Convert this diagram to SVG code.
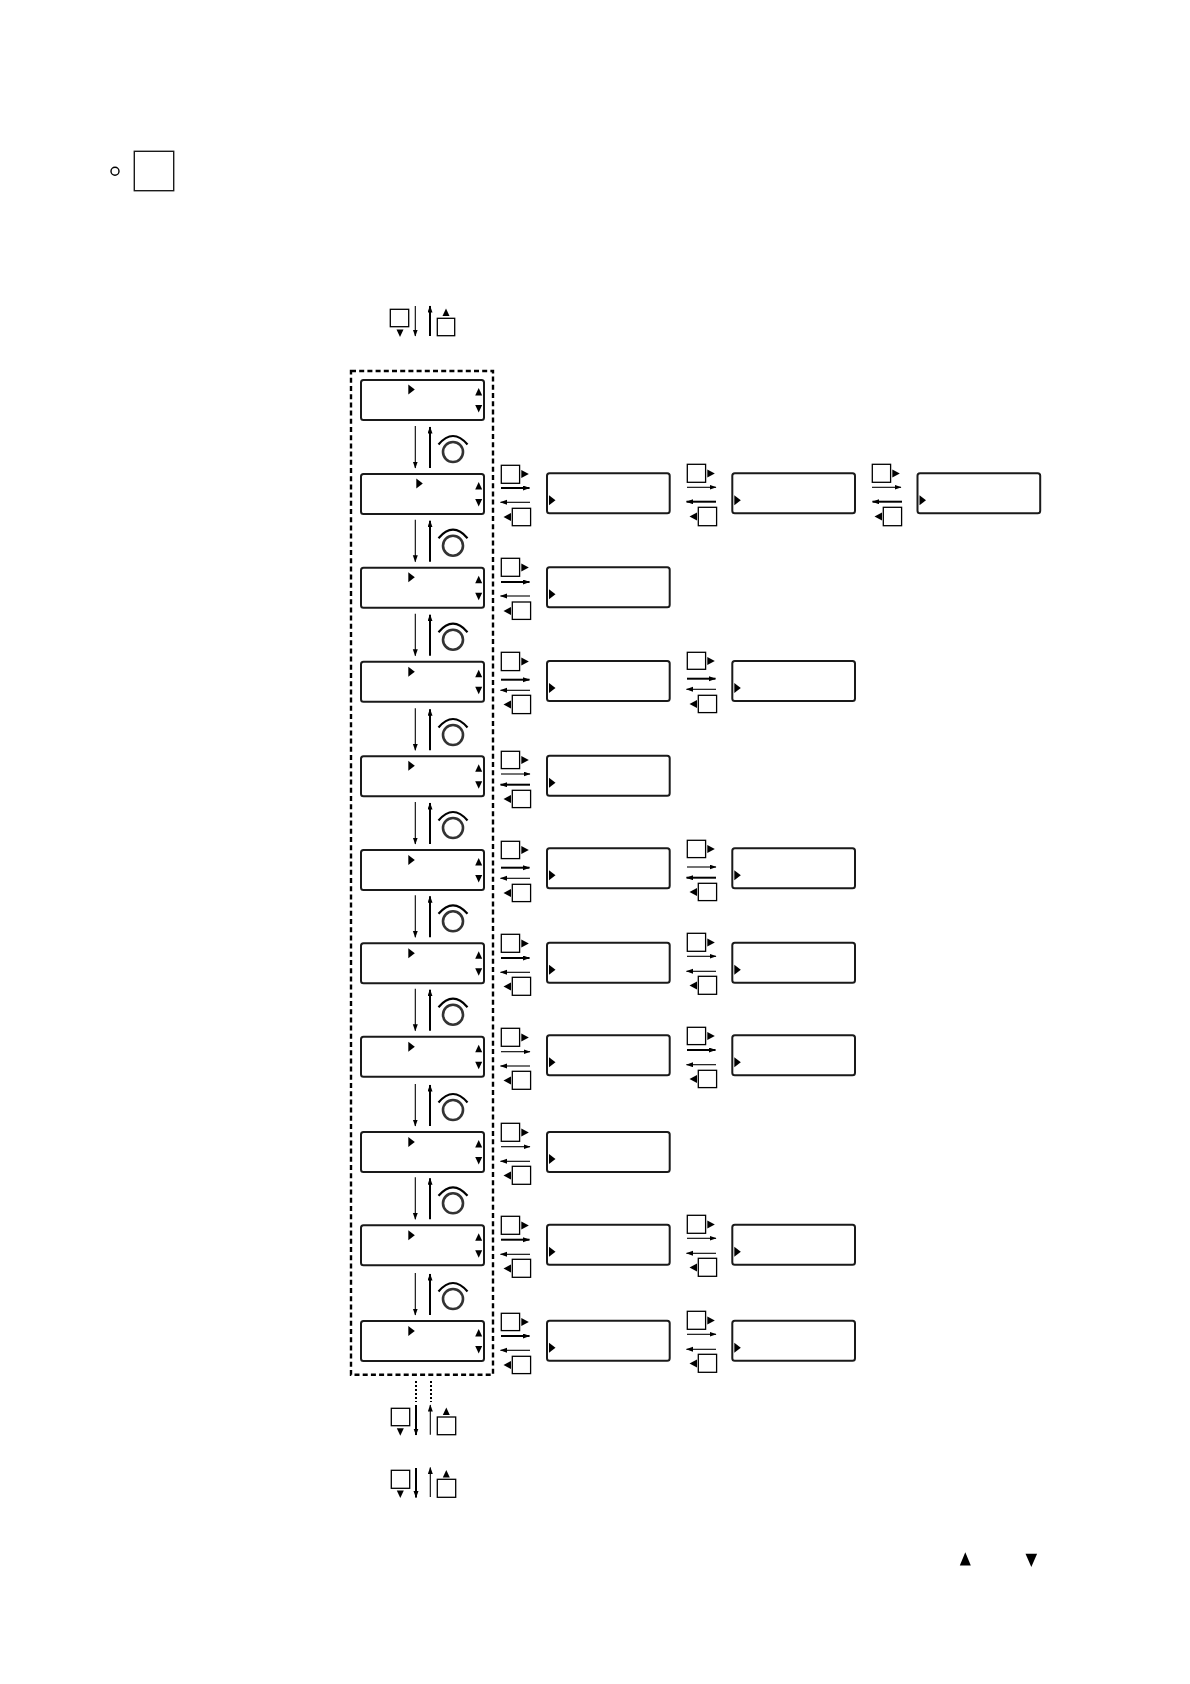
<svg xmlns="http://www.w3.org/2000/svg" width="1190" height="1684" viewBox="0 0 1190 1684">
<style>
.box{fill:#fff;stroke:#1a1a1a;stroke-width:2}
.k{fill:#fff;stroke:#000;stroke-width:1.3}
.t,.b{fill:none;stroke:#000;marker-end:url(#ah)}
.t{stroke-width:1.1}
.b{stroke-width:2}
.f{fill:#000}
.dash{fill:none;stroke:#000;stroke-width:2.4;stroke-dasharray:5 3.2}
.dot{stroke:#000;stroke-width:2;stroke-dasharray:2 2;fill:none}
</style>
<defs>
<marker id="ah" markerUnits="userSpaceOnUse" markerWidth="8" markerHeight="6" refX="6.5" refY="2.5" orient="auto"><path d="M0,0L7,2.5L0,5z" fill="#000"/></marker>
<path id="tr" class="f" d="M0,-5L6.5,0L0,5z"/>
<path id="tl" class="f" d="M0,-4L-7.5,0L0,4z"/>
<path id="tkr" class="f" d="M0,-4L7.5,0L0,4z"/>
<path id="tu" class="f" d="M-3.5,7.5L0,0L3.5,7.5z"/>
<path id="td" class="f" d="M-3.5,0L0,7.5L3.5,0z"/>
<g id="menu"><rect class="box" width="123" height="40" rx="2.5"/><use href="#tu" x="117.7" y="8"/><use href="#td" x="117.7" y="25"/></g>
<g id="panel"><rect class="box" width="122.7" height="40" rx="2.5"/><use href="#tr" x="2" y="27"/></g>
<g id="knob"><circle cx="453" cy="-22" r="10" fill="#fff" stroke="#333" stroke-width="2.6"/><path d="M438.5,-29.5Q453,-46.5 467.5,-29.5" fill="none" stroke="#000" stroke-width="2.2"/></g>
<g id="wl"><line class="t" x1="415.3" y1="-48" x2="415.3" y2="-6"/><line class="b" x1="430" y1="-6" x2="430" y2="-47"/></g>
</defs>

<g id="title-mark"><circle cx="115" cy="171.3" r="4" fill="none" stroke="#000" stroke-width="1.4"/><rect x="134.3" y="151.3" width="39.4" height="39.4" fill="#fff" stroke="#1a1a1a" stroke-width="1.4"/></g>

<g id="menu-frame"><rect class="dash" x="351" y="371" width="142" height="1003.7"/></g>

<g id="menus">
<g id="menu1" transform="translate(361,380)"><use href="#menu"/><use href="#tr" x="47.3" y="9.5"/></g>
<g id="menu2" transform="translate(361,474)"><use href="#menu"/><use href="#tr" x="55.3" y="9.5"/></g>
<g id="menu3" transform="translate(361,567.7)"><use href="#menu"/><use href="#tr" x="47.3" y="9.5"/></g>
<g id="menu4" transform="translate(361,661.7)"><use href="#menu"/><use href="#tr" x="47.3" y="10"/></g>
<g id="menu5" transform="translate(361,756.3)"><use href="#menu"/><use href="#tr" x="47.3" y="9.5"/></g>
<g id="menu6" transform="translate(361,850)"><use href="#menu"/><use href="#tr" x="47.3" y="10"/></g>
<g id="menu7" transform="translate(361,943.3)"><use href="#menu"/><use href="#tr" x="47.3" y="10"/></g>
<g id="menu8" transform="translate(361,1036.7)"><use href="#menu"/><use href="#tr" x="47.3" y="10"/></g>
<g id="menu9" transform="translate(361,1132)"><use href="#menu"/><use href="#tr" x="47.3" y="10"/></g>
<g id="menu10" transform="translate(361,1225.3)"><use href="#menu"/><use href="#tr" x="47.3" y="10"/></g>
<g id="menu11" transform="translate(361,1321)"><use href="#menu"/><use href="#tr" x="47.3" y="10"/></g>
</g>

<g id="panels">
<g id="p2a" transform="translate(547,473.3)"><use href="#panel"/></g>
<g id="p2b" transform="translate(732.3,473.3)"><use href="#panel"/></g>
<g id="p2c" transform="translate(917.5,473.3)"><use href="#panel"/></g>
<g id="p3a" transform="translate(547,567.3)"><use href="#panel"/></g>
<g id="p4a" transform="translate(547,661)"><use href="#panel"/></g>
<g id="p4b" transform="translate(732.3,661)"><use href="#panel"/></g>
<g id="p5a" transform="translate(547,755.7)"><use href="#panel"/></g>
<g id="p6a" transform="translate(547,848.3)"><use href="#panel"/></g>
<g id="p6b" transform="translate(732.3,848.3)"><use href="#panel"/></g>
<g id="p7a" transform="translate(547,942.7)"><use href="#panel"/></g>
<g id="p7b" transform="translate(732.3,942.7)"><use href="#panel"/></g>
<g id="p8a" transform="translate(547,1035.3)"><use href="#panel"/></g>
<g id="p8b" transform="translate(732.3,1035.3)"><use href="#panel"/></g>
<g id="p9a" transform="translate(547,1132)"><use href="#panel"/></g>
<g id="p10a" transform="translate(547,1224.7)"><use href="#panel"/></g>
<g id="p10b" transform="translate(732.3,1224.7)"><use href="#panel"/></g>
<g id="p11a" transform="translate(547,1320.7)"><use href="#panel"/></g>
<g id="p11b" transform="translate(732.3,1320.7)"><use href="#panel"/></g>
</g>

<g id="wheels">
<use id="wheel1" href="#knob" y="474"/>
<use id="wheel2" href="#knob" y="567.7"/>
<use id="wheel3" href="#knob" y="661.7"/>
<use id="wheel4" href="#knob" y="757"/>
<use id="wheel5" href="#knob" y="850"/>
<use id="wheel6" href="#knob" y="943.3"/>
<use id="wheel7" href="#knob" y="1036.7"/>
<use id="wheel8" href="#knob" y="1132"/>
<use id="wheel9" href="#knob" y="1225.3"/>
<use id="wheel10" href="#knob" y="1321"/>
</g>

<g id="keys">
<g id="keys2a"><rect class="k" x="501.3" y="465.3" width="18.3" height="18"/><use href="#tkr" x="521.3" y="474"/><rect class="k" x="512.3" y="508.3" width="18.3" height="17.4"/><use href="#tl" x="511" y="517"/></g>
<g id="keys2b" transform="translate(186,0)"><rect class="k" x="501.3" y="464.3" width="18.3" height="18"/><use href="#tkr" x="521.3" y="473.5"/><rect class="k" x="512.3" y="507.3" width="18.3" height="18.4"/><use href="#tl" x="511" y="516.5"/></g>
<g id="keys2c" transform="translate(371,0)"><rect class="k" x="501.3" y="464.3" width="18.3" height="18"/><use href="#tkr" x="521.3" y="473.5"/><rect class="k" x="512.3" y="507.3" width="18.3" height="18.4"/><use href="#tl" x="511" y="516.5"/></g>
<g id="keys3a"><rect class="k" x="501.3" y="558.3" width="18.3" height="18"/><use href="#tkr" x="521.3" y="567.5"/><rect class="k" x="512.3" y="602" width="18.3" height="17.4"/><use href="#tl" x="511" y="611"/></g>
<g id="keys4a"><rect class="k" x="501.3" y="652.3" width="18.3" height="18.3"/><use href="#tkr" x="521.3" y="661.5"/><rect class="k" x="512.3" y="695.3" width="18.3" height="18.3"/><use href="#tl" x="511" y="704.5"/></g>
<g id="keys4b" transform="translate(186,0)"><rect class="k" x="501.3" y="652.3" width="18.3" height="17"/><use href="#tkr" x="521.3" y="661"/><rect class="k" x="512.3" y="695.3" width="18.3" height="17.3"/><use href="#tl" x="511" y="704"/></g>
<g id="keys5a"><rect class="k" x="501.3" y="751.3" width="18.3" height="17.3"/><use href="#tkr" x="521.3" y="760"/><rect class="k" x="512.3" y="790.3" width="18.3" height="17.3"/><use href="#tl" x="511" y="799"/></g>
<g id="keys6a"><rect class="k" x="501.3" y="841.3" width="18.3" height="17.3"/><use href="#tkr" x="521.3" y="850"/><rect class="k" x="512.3" y="884.3" width="18.3" height="17.3"/><use href="#tl" x="511" y="893"/></g>
<g id="keys6b" transform="translate(186,0)"><rect class="k" x="501.3" y="840.3" width="18.3" height="17.3"/><use href="#tkr" x="521.3" y="849"/><rect class="k" x="512.3" y="883.3" width="18.3" height="17.3"/><use href="#tl" x="511" y="892"/></g>
<g id="keys7a"><rect class="k" x="501.3" y="934.3" width="18.3" height="18"/><use href="#tkr" x="521.3" y="943.5"/><rect class="k" x="512.3" y="977.3" width="18.3" height="18"/><use href="#tl" x="511" y="986.5"/></g>
<g id="keys7b" transform="translate(186,0)"><rect class="k" x="501.3" y="933.3" width="18.3" height="18"/><use href="#tkr" x="521.3" y="942.5"/><rect class="k" x="512.3" y="976.3" width="18.3" height="18"/><use href="#tl" x="511" y="985.5"/></g>
<g id="keys8a"><rect class="k" x="501.3" y="1028.3" width="18.3" height="18"/><use href="#tkr" x="521.3" y="1037.5"/><rect class="k" x="512.3" y="1071.3" width="18.3" height="18"/><use href="#tl" x="511" y="1080.5"/></g>
<g id="keys8b" transform="translate(186,0)"><rect class="k" x="501.3" y="1027.3" width="18.3" height="17.3"/><use href="#tkr" x="521.3" y="1036"/><rect class="k" x="512.3" y="1070.3" width="18.3" height="17.3"/><use href="#tl" x="511" y="1079"/></g>
<g id="keys9a"><rect class="k" x="501.3" y="1123.3" width="18.3" height="18"/><use href="#tkr" x="521.3" y="1132.5"/><rect class="k" x="512.3" y="1166.3" width="18.3" height="18"/><use href="#tl" x="511" y="1175.5"/></g>
<g id="keys10a"><rect class="k" x="501.3" y="1216.3" width="18.3" height="18"/><use href="#tkr" x="521.3" y="1225.5"/><rect class="k" x="512.3" y="1259.3" width="18.3" height="18"/><use href="#tl" x="511" y="1268.5"/></g>
<g id="keys10b" transform="translate(186,0)"><rect class="k" x="501.3" y="1215.3" width="18.3" height="18"/><use href="#tkr" x="521.3" y="1224.5"/><rect class="k" x="512.3" y="1258.3" width="18.3" height="18"/><use href="#tl" x="511" y="1267.5"/></g>
<g id="keys11a"><rect class="k" x="501.3" y="1313.3" width="18.3" height="17.3"/><use href="#tkr" x="521.3" y="1322"/><rect class="k" x="512.3" y="1356.3" width="18.3" height="17.3"/><use href="#tl" x="511" y="1365"/></g>
<g id="keys11b" transform="translate(186,0)"><rect class="k" x="501.3" y="1311.3" width="18.3" height="18"/><use href="#tkr" x="521.3" y="1320.5"/><rect class="k" x="512.3" y="1354.3" width="18.3" height="18"/><use href="#tl" x="511" y="1363.5"/></g>
<g id="keys-top"><rect class="k" x="390.3" y="309.3" width="18.4" height="17.4"/><use href="#td" x="400" y="329.5"/><use href="#tu" x="446" y="308.5"/><rect class="k" x="437.3" y="318.3" width="17.4" height="17.4"/></g>
<g id="keys-bottom1"><rect class="k" x="391.3" y="1408.3" width="18.4" height="17.4"/><use href="#td" x="400.3" y="1428.3"/><use href="#tu" x="446.3" y="1407.5"/><rect class="k" x="437.3" y="1417" width="18.4" height="17.7"/></g>
<g id="keys-bottom2"><rect class="k" x="391.3" y="1470.3" width="18.4" height="18"/><use href="#td" x="400.3" y="1490.5"/><use href="#tu" x="446.3" y="1470"/><rect class="k" x="437.3" y="1479.3" width="18.4" height="18"/></g>
</g>

<g id="connectors">
<use href="#wl" y="474"/><use href="#wl" y="567.7"/><use href="#wl" y="661.7"/><use href="#wl" y="756.3"/><use href="#wl" y="850"/><use href="#wl" y="943.3"/><use href="#wl" y="1036.7"/><use href="#wl" y="1132"/><use href="#wl" y="1225.3"/><use href="#wl" y="1321"/>
<line class="t" x1="415.3" y1="306" x2="415.3" y2="336"/><line class="b" x1="430" y1="336" x2="430" y2="306"/>
<line class="dot" x1="416" y1="1381" x2="416" y2="1402"/><line class="dot" x1="431" y1="1381" x2="431" y2="1402"/>
<line class="b" x1="416" y1="1405" x2="416" y2="1435"/><line class="t" x1="430.3" y1="1434.7" x2="430.3" y2="1405"/>
<line class="b" x1="416" y1="1468" x2="416" y2="1497.5"/><line class="t" x1="430.3" y1="1497" x2="430.3" y2="1467.5"/>

<line class="b" x1="501" y1="488" x2="529.5" y2="488"/><line class="t" x1="530" y1="502.3" x2="500.5" y2="502.3"/>
<line class="t" x1="687" y1="487.3" x2="716" y2="487.3"/><line class="b" x1="716" y1="501.7" x2="686.5" y2="501.7"/>
<line class="t" x1="872" y1="487.3" x2="901" y2="487.3"/><line class="b" x1="902" y1="501.7" x2="872.5" y2="501.7"/>
<line class="b" x1="501" y1="582" x2="529.5" y2="582"/><line class="t" x1="530" y1="596" x2="500.5" y2="596"/>
<line class="b" x1="501" y1="679.7" x2="529.5" y2="679.7"/><line class="t" x1="530" y1="690.3" x2="500.5" y2="690.3"/>
<line class="b" x1="687" y1="678.7" x2="715.5" y2="678.7"/><line class="t" x1="716" y1="689.3" x2="686.5" y2="689.3"/>
<line class="t" x1="501" y1="774" x2="530" y2="774"/><line class="b" x1="530" y1="784.7" x2="500.5" y2="784.7"/>
<line class="b" x1="501" y1="867.7" x2="529.5" y2="867.7"/><line class="t" x1="530" y1="878.3" x2="500.5" y2="878.3"/>
<line class="t" x1="687" y1="867" x2="716" y2="867"/><line class="b" x1="716" y1="877.7" x2="686.5" y2="877.7"/>
<line class="b" x1="501" y1="958" x2="529.5" y2="958"/><line class="t" x1="530" y1="972.3" x2="500.5" y2="972.3"/>
<line class="t" x1="687" y1="956.3" x2="716" y2="956.3"/><line class="t" x1="716" y1="971.3" x2="686.5" y2="971.3"/>
<line class="t" x1="501" y1="1051.7" x2="530" y2="1051.7"/><line class="t" x1="530" y1="1066" x2="500.5" y2="1066"/>
<line class="b" x1="687" y1="1050" x2="715.5" y2="1050"/><line class="t" x1="716" y1="1064.7" x2="686.5" y2="1064.7"/>
<line class="t" x1="501" y1="1146.7" x2="530" y2="1146.7"/><line class="t" x1="530" y1="1161.3" x2="500.5" y2="1161.3"/>
<line class="b" x1="501" y1="1239.7" x2="529.5" y2="1239.7"/><line class="t" x1="530" y1="1254.3" x2="500.5" y2="1254.3"/>
<line class="t" x1="687" y1="1238.3" x2="716" y2="1238.3"/><line class="t" x1="716" y1="1253.3" x2="686.5" y2="1253.3"/>
<line class="b" x1="501" y1="1336" x2="529.5" y2="1336"/><line class="t" x1="530" y1="1350.3" x2="500.5" y2="1350.3"/>
<line class="t" x1="687" y1="1334.3" x2="716" y2="1334.3"/><line class="t" x1="716" y1="1349.3" x2="686.5" y2="1349.3"/>
</g>

<g id="legend"><path class="f" d="M959.8,1565.5L965.3,1552.3L970.8,1565.5z"/><path class="f" d="M1025.5,1553.7L1031.3,1566.9L1037.1,1553.7z"/></g>
</svg>
